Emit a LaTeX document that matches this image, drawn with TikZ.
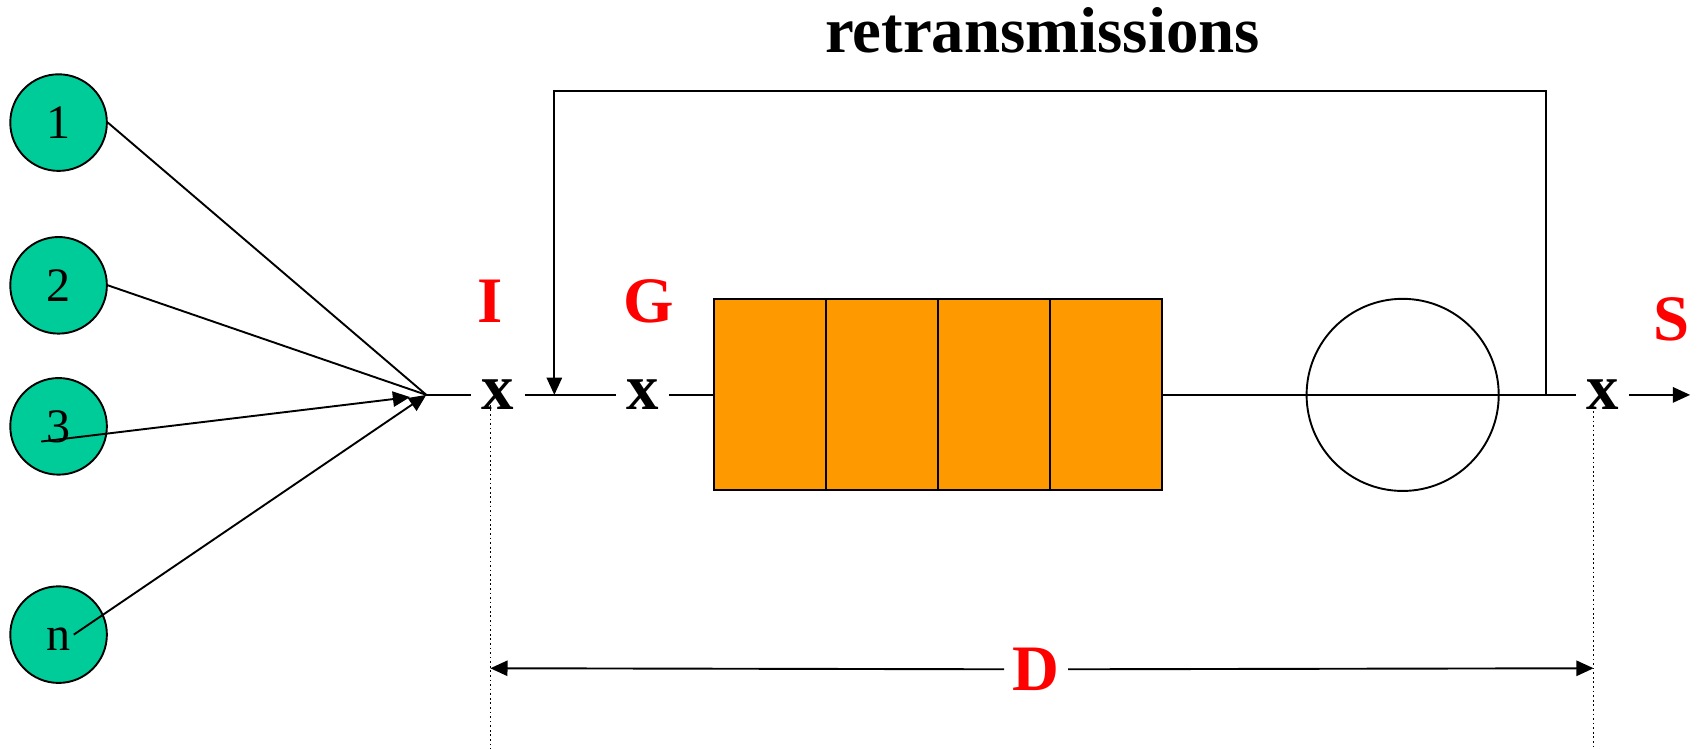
\documentclass[tikz,border=0pt]{standalone}
\usepackage{fontspec}
\setmainfont{Liberation Serif}
\usetikzlibrary{arrows.meta,positioning}
\definecolor{qTeal}  {RGB}{  0,204,153}
\definecolor{qOrange}{RGB}{255,153,  0}
\definecolor{qRed}   {RGB}{255,  0,  0}
\tikzset{
  src/.style={circle,draw,fill=qTeal,minimum size=0.89cm,inner sep=0pt,
              text height=8.5pt,text depth=0pt,
              font=\fontsize{12.6}{14}\selectfont},
  cell/.style={rectangle,draw,fill=qOrange,minimum width=1.0325cm,
               minimum height=1.76cm,inner sep=0pt},
  xmark/.style={font=\fontsize{17}{20}\selectfont\bfseries,
                inner xsep=2.5pt,inner ysep=0pt},
  tag/.style={font=\fontsize{17}{20}\selectfont\bfseries,text=qRed},
  arr/.style={-{Triangle[length=4.5pt,width=4pt]}},
  guide/.style={dash pattern=on 0.45pt off 0.75pt,line width=0.4pt},
}
\begin{document}
\begin{tikzpicture}[x=0.01cm,y=-0.01cm,line width=0.5pt]
\useasboundingbox (0,0) rectangle (1568,690);
% Sources
\foreach \n/\y in {1/113,2/263,3/393,n/585}{
  \node[src] (src\n) at (54,\y) {\n};
}
\coordinate (J) at (393,364);
\coordinate (tip3) at (378,366);
\draw (src1.east) -- (J);
\draw (src2.east) -- (J);
\draw[arr] ([shift={(-16,14)}]src3.center) -- (tip3);
\draw[arr] ([shift={(14,0)}]srcn.center) -- (J);
% Measurement points
\node[xmark] (xI) at (459,364) {x};
\node[xmark] (xG) at (592,364) {x};
\node[xmark] (xS) at (1477,364) {x};
\node[tag] (lblI) at (452,278) {I};
\node[tag] (lblG) at (598,278) {G};
\node[tag] (lblS) at (1541,294) {S};
% Buffer and server
\foreach \i in {1,...,4}{
  \node[cell] (buf\i) at ({658+103.25*(\i-0.5)},364) {};
}
\node[circle,draw,minimum size=1.77cm,inner sep=0pt] (srv) at (1293,364) {};
% Main line
\coordinate (fbin) at (511,364);
\coordinate (fbout) at (1425,364);
\coordinate (loopTop) at (511,84);
\coordinate (outS) at (1558,364);
\draw (J) -- (xI);
\draw (xI) -- (xG);
\draw (xG) -- (buf1);
\draw (buf4) -- (fbout);
\draw (fbout) -- (xS);
\draw[arr] (xS) -- (outS);
% Retransmission loop
\draw[arr] (fbout) |- (loopTop) -- (fbin);
\node[font=\fontsize{17}{20}\selectfont\bfseries] (retx) at (961,28) {retransmissions};
% Delay D
\draw[guide] (452,369) -- (452,690);
\draw[guide] (1469,375) -- (1469,690);
\coordinate (dL) at (452,616);
\coordinate (dR) at (1469,616);
\node[tag,inner xsep=2pt] (lblD) at (955,617) {D};
\draw[arr] (lblD) -- (dL);
\draw[arr] (lblD) -- (dR);
\end{tikzpicture}
\end{document}
